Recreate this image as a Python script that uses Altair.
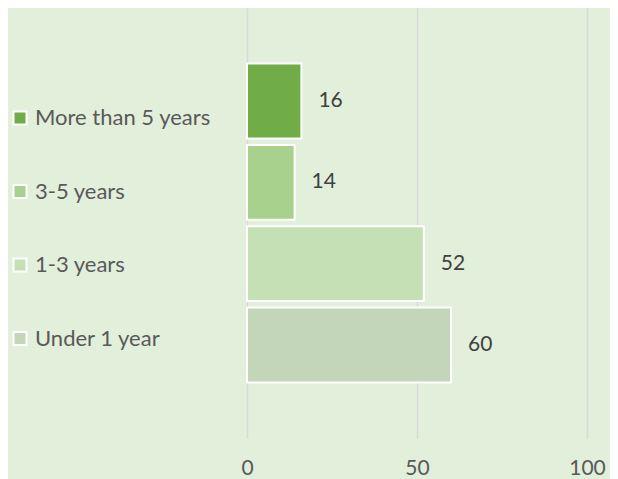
import altair as alt
import pandas as pd

categories = ["More than 5 years", "3-5 years", "1-3 years", "Under 1 year"]
values = [16, 14, 52, 60]
colors = ["#70AD47", "#A9D18E", "#C5E0B4", "#C3D6BA"]
x_ticks = [0, 50, 100]

df = pd.DataFrame({"category": categories, "value": values})

y = alt.Y("category:N", sort=categories, axis=None,
          scale=alt.Scale(paddingInner=0.08, paddingOuter=0.684))
x = alt.X("value:Q", scale=alt.Scale(domain=[0, 100]),
          axis=alt.Axis(values=x_ticks, title=None, grid=True, ticks=False, domain=False,
                        labelFlush=False,
                        labelFont="Lato", labelFontSize=21, labelColor="#595959",
                        labelPadding=19, gridColor="#D9D9D9", gridWidth=1.5))

bars = alt.Chart(df).mark_bar(stroke="white", strokeWidth=2).encode(
    x=x, y=y,
    color=alt.Color("category:N", sort=categories,
                    scale=alt.Scale(domain=categories, range=colors),
                    legend=alt.Legend(title=None, orient="none", legendX=-238, legendY=99,
                                      symbolType="square", symbolSize=169,
                                      symbolStrokeColor="white", symbolStrokeWidth=2,
                                      symbolOpacity=1,
                                      labelFont="Lato", labelFontSize=22, labelColor="#595959",
                                      labelLimit=400,
                                      rowPadding=51.5, labelOffset=4)),
)

text = alt.Chart(df).mark_text(align="left", baseline="middle", dx=17, font="Lato",
                               fontSize=21, color="#404040").encode(
    x=x, y=y, text="value:Q")

chart = (bars + text).properties(
    width=340, height=430,
    autosize=alt.AutoSizeParams(type="none"),
    padding={"left": 239, "top": 0, "right": 23, "bottom": 41},
    background="#E2EFDA",
).configure_view(stroke=None)

chart.save("out.html", embed_options={"renderer": "svg", "actions": False})
